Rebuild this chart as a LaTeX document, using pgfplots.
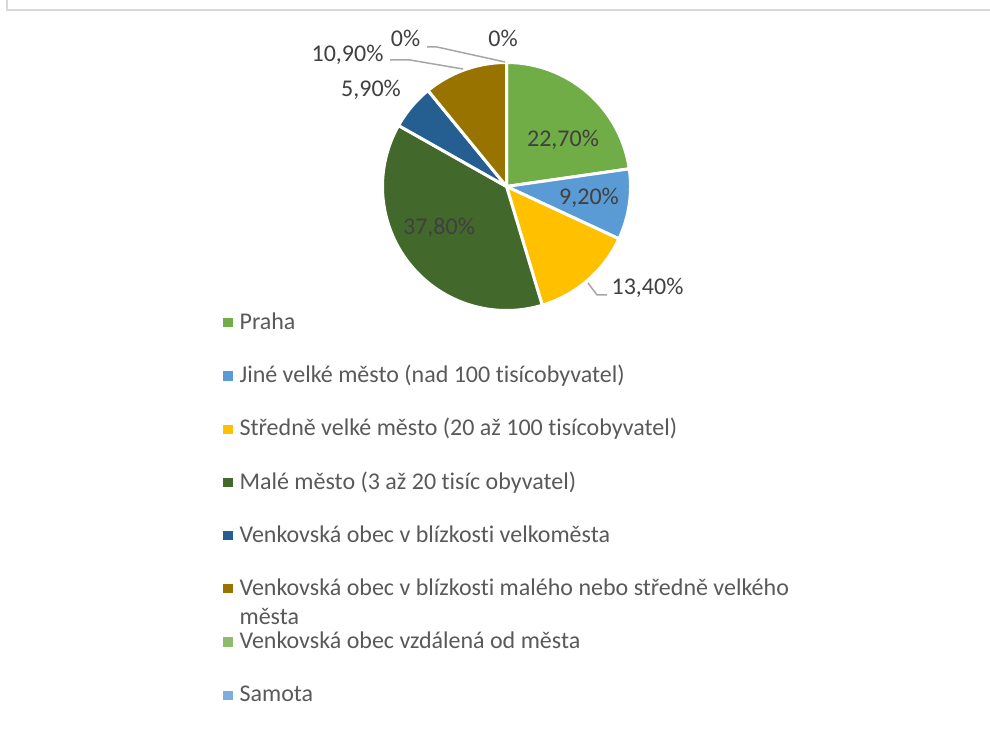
\documentclass[border=0pt]{standalone}
\usepackage{fontspec}
\setmainfont{Carlito}[Ligatures={NoCommon}]
\usepackage{pgfplots}
\pgfplotsset{compat=1.18}

\definecolor{cPraha}{HTML}{70AD47}
\definecolor{cJine}{HTML}{5B9BD5}
\definecolor{cStred}{HTML}{FFC000}
\definecolor{cMale}{HTML}{43682B}
\definecolor{cVelko}{HTML}{255E91}
\definecolor{cMaleS}{HTML}{997300}
\definecolor{cVzd}{HTML}{8DBD6C}
\definecolor{cSamota}{HTML}{7CAFDD}
\definecolor{legendgray}{HTML}{595959}
\definecolor{labelgray}{HTML}{404040}
\definecolor{leadergray}{HTML}{A6A6A6}
\definecolor{framegray}{HTML}{D9D9D9}

% values (percent)
\def\vA{22.7}\def\vB{9.2}\def\vC{13.4}\def\vD{37.8}
\def\vE{5.9}\def\vF{10.9}\def\vG{0}\def\vH{0}
\pgfmathsetmacro{\T}{\vA+\vB+\vC+\vD+\vE+\vF+\vG+\vH}
\pgfmathsetmacro{\a}{90}
\pgfmathsetmacro{\aA}{90-360*(\vA)/\T}
\pgfmathsetmacro{\aB}{\aA-360*(\vB)/\T}
\pgfmathsetmacro{\aC}{\aB-360*(\vC)/\T}
\pgfmathsetmacro{\aD}{\aC-360*(\vD)/\T}
\pgfmathsetmacro{\aE}{\aD-360*(\vE)/\T}
\pgfmathsetmacro{\aF}{\aE-360*(\vF)/\T}
\def\cx{506.5}\def\cy{542.5}\def\R{124}

\newcommand{\pieslice}[3]{%
  \addplot[fill=#1, draw=white, line width=1.5pt, line join=round,
    domain=#2:#3, samples=80, variable=\t]
    ({\cx+\R*cos(\t)},{\cy+\R*sin(\t)}) -- (axis cs:\cx,\cy) -- cycle;}

\newcommand{\chfont}{\fontsize{12}{14}\selectfont}

\begin{document}
\begin{tikzpicture}
\useasboundingbox (0,0) rectangle (495pt,364.5pt);
\begin{axis}[
  at={(0,0)}, anchor=south west,
  scale only axis, width=495pt, height=364.5pt,
  xmin=0, xmax=990, ymin=0, ymax=729,
  hide axis, clip=false,
  legend image code/.code={\fill[#1,draw=none] (0pt,-2pt) rectangle (4.6pt,2.6pt);},
  legend cell align=left,
  legend style={at={(0.22525,0.5720)}, anchor=north west, draw=none, fill=none,
    inner sep=0pt, row sep=15.6pt,
    font=\chfont, text=legendgray,
    nodes={inner sep=0pt, inner xsep=3.5pt, text height=8.5pt, text depth=2.5pt}},
]
% frame
\draw[framegray, line width=0.75pt] (axis cs:7,729) -- (axis cs:7,719) -- (axis cs:990,719);

\pieslice{cPraha}{\aA}{\a}
\addlegendentry{Praha}
\pieslice{cJine}{\aB}{\aA}
\addlegendentry{Jiné velké město (nad 100 tisícobyvatel)}
\pieslice{cStred}{\aC}{\aB}
\addlegendentry{Středně velké město (20 až 100 tisícobyvatel)}
\pieslice{cMale}{\aD}{\aC}
\addlegendentry{Malé město (3 až 20 tisíc obyvatel)}
\pieslice{cVelko}{\aE}{\aD}
\addlegendentry{Venkovská obec v blízkosti velkoměsta}
\pieslice{cMaleS}{\aF}{\aE}
\addlegendentry{\parbox[t]{300pt}{\fontsize{12}{14.6}\selectfont Venkovská obec v blízkosti malého nebo středně velkého\\města}}
\addlegendimage{fill=cVzd}
\addlegendentry{Venkovská obec vzdálená od města}
\addlegendimage{fill=cSamota}
\addlegendentry{Samota}

% leader lines
\draw[leadergray, line width=0.75pt] (axis cs:588,446) -- (axis cs:597,434) -- (axis cs:607,434);
\draw[leadergray, line width=0.75pt] (axis cs:390,669) -- (axis cs:410,669) -- (axis cs:463,660);
\draw[leadergray, line width=0.75pt] (axis cs:427,682) -- (axis cs:437,682) -- (axis cs:505,667);

% data labels
\begin{scope}[every node/.style={font=\chfont, text=labelgray, anchor=base, inner sep=0pt}]
\node at (axis cs:563,582) {22,70\%};
\node at (axis cs:589,524) {9,20\%};
\node at (axis cs:647.5,434) {13,40\%};
\node at (axis cs:439,494) {37,80\%};
\node at (axis cs:371,632) {5,90\%};
\node at (axis cs:347.5,667) {10,90\%};
\node at (axis cs:405.5,682) {0\%};
\node at (axis cs:503,682) {0\%};
\end{scope}
\end{axis}
\end{tikzpicture}
\end{document}
